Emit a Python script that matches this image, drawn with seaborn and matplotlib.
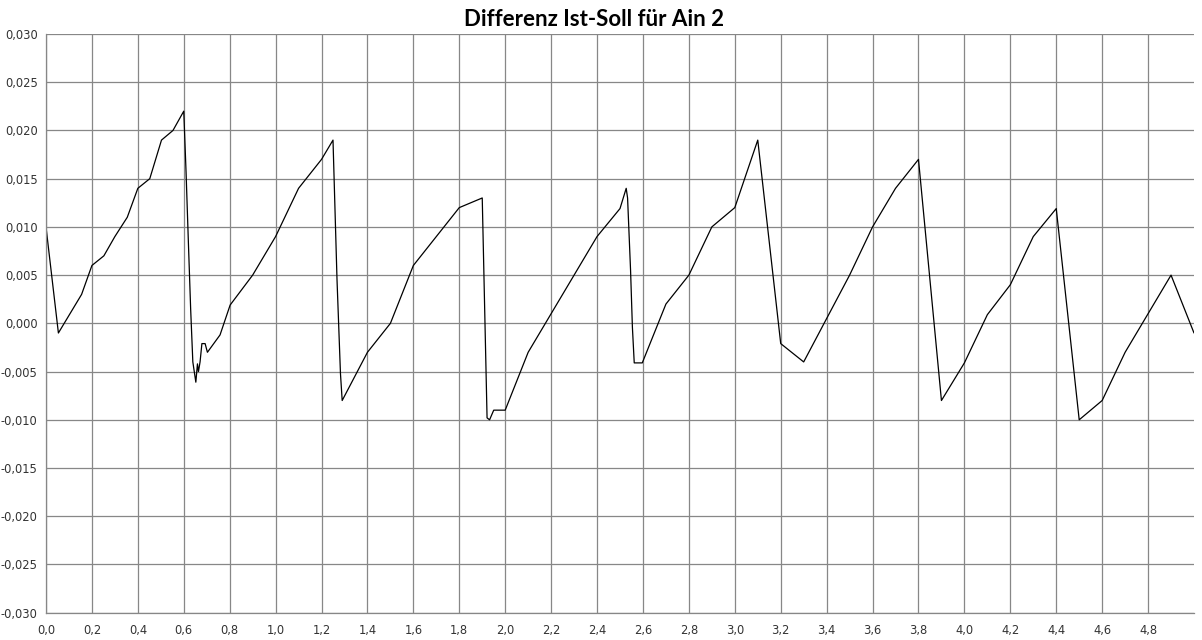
import numpy as np
import pandas as pd
import matplotlib
matplotlib.use("Agg")
import matplotlib.pyplot as plt
import seaborn as sns
from matplotlib.ticker import FuncFormatter

title = "Differenz Ist-Soll für Ain 2"

x_vals = [0.0, 0.054, 0.155, 0.2, 0.252, 0.3, 0.354, 0.4, 0.452, 0.503, 0.553, 0.6,
          0.61, 0.62, 0.63, 0.6395, 0.6526, 0.6596, 0.664, 0.671, 0.679, 0.693, 0.703,
          0.758, 0.802, 0.9, 1.0, 1.1, 1.2, 1.25, 1.2675, 1.2825, 1.29, 1.4, 1.5, 1.6,
          1.7, 1.8, 1.9, 1.921, 1.932, 1.95, 2.0, 2.1, 2.2, 2.3, 2.4, 2.5, 2.527, 2.533,
          2.546, 2.554, 2.562, 2.597, 2.7, 2.8, 2.9, 3.0, 3.1, 3.2, 3.3, 3.4, 3.5, 3.6,
          3.7, 3.8, 3.9, 4.0, 4.1, 4.2, 4.3, 4.4, 4.5, 4.6, 4.7, 4.8, 4.9, 5.0]
y_vals = [0.010, -0.001, 0.003, 0.006, 0.007, 0.009, 0.011, 0.014, 0.015, 0.019, 0.020, 0.022,
          0.0157, 0.0085, 0.0015, -0.004, -0.0061, -0.0042, -0.005, -0.004, -0.0021, -0.0021, -0.003,
          -0.0012, 0.0019, 0.005, 0.009, 0.014, 0.017, 0.019, 0.0045, -0.0052, -0.008, -0.003, 0.000, 0.006,
          0.009, 0.012, 0.013, -0.0098, -0.010, -0.009, -0.009, -0.003, 0.001, 0.005, 0.009, 0.0119, 0.014, 0.013,
          0.0055, -0.0004, -0.0041, -0.0041, 0.002, 0.005, 0.010, 0.012, 0.019, -0.0021, -0.004, 0.0005, 0.005, 0.010,
          0.014, 0.017, -0.008, -0.0041, 0.0009, 0.004, 0.009, 0.0119, -0.010, -0.008, -0.003, 0.001, 0.005, -0.001]

x_ticks = [0.0, 0.2, 0.4, 0.6, 0.8, 1.0, 1.2, 1.4, 1.6, 1.8, 2.0, 2.2, 2.4, 2.6, 2.8, 3.0,
           3.2, 3.4, 3.6, 3.8, 4.0, 4.2, 4.4, 4.6, 4.8]
y_ticks = [-0.030, -0.025, -0.020, -0.015, -0.010, -0.005, 0.000, 0.005, 0.010, 0.015,
           0.020, 0.025, 0.030]

df = pd.DataFrame({"x": x_vals, "y": y_vals})

sns.set_style("white")
plt.rcParams["font.family"] = ["DejaVu Sans"]

fig = plt.figure(figsize=(12.02, 6.40), dpi=100)
ax = fig.add_axes([46/1202, 1 - 612.7/640, (1194 - 46)/1202, (612.7 - 34)/640])

grid_c = "#878787"
ax.set_axisbelow(True)
ax.grid(True, color=grid_c, linewidth=0.9)

sns.lineplot(data=df, x="x", y="y", ax=ax, color="black", linewidth=0.9,
             sort=False, estimator=None)

ax.set_xlim(0, 5.0)
ax.set_ylim(-0.030, 0.030)
ax.set_xticks(x_ticks)
ax.set_yticks(y_ticks)

fmt_x = FuncFormatter(lambda v, p: f"{v:.1f}".replace(".", ","))
fmt_y = FuncFormatter(lambda v, p: f"{v:.3f}".replace(".", ",").replace("-0,000", "0,000"))
ax.xaxis.set_major_formatter(fmt_x)
ax.yaxis.set_major_formatter(fmt_y)

ax.set_xlabel("")
ax.set_ylabel("")

for s in ["top", "right"]:
    ax.spines[s].set_visible(False)
for s in ["left", "bottom"]:
    ax.spines[s].set_color(grid_c)
    ax.spines[s].set_linewidth(0.9)

ax.tick_params(axis="both", direction="out", length=4, width=0.9, color=grid_c,
               labelsize=8.3, labelcolor="#333333", pad=2)
ax.tick_params(axis="x", pad=4)

fig.text(594/1202, 1 - 26/640, title, ha="center", va="baseline",
         fontsize=16, fontweight="bold", family=["Lato", "DejaVu Sans"], color="black")

fig.savefig("out.png", dpi=100)
